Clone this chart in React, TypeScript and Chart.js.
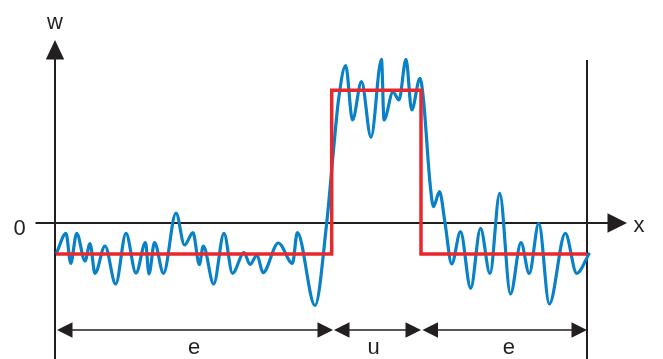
import React, { useEffect, useRef } from "react";
import { Chart, registerables } from "chart.js";

Chart.register(...registerables);

// Measured signal w(x): x positions and amplitudes (0 = baseline axis)
const signalX = [
  0.17, 1.1, 1.57, 2.17, 3.0, 3.5, 4.0, 5.0, 6.07, 7.1, 8.1, 9.05, 9.4, 9.95, 10.85,
  12.1, 12.95, 13.8, 14.43, 14.83, 15.87, 16.9, 17.75, 18.9, 19.5, 20.2, 20.8, 22.33,
  23.75, 24.23, 26.0, 27.17, 27.85, 28.35, 29.07, 29.75, 30.65, 31.6, 32.65, 32.9,
  33.8, 34.4, 35.1, 35.67, 36.5, 36.85, 37.5, 37.85, 38.45, 39.0, 39.67, 40.55, 41.57,
  42.55, 43.5, 44.47, 45.55, 46.6, 47.42, 48.38, 49.43, 51.03, 52.17, 53.4,
];
const signalW = [
  -0.958, -0.332, -1.3, -0.332, -1.226, -0.661, -1.623, -0.742, -1.968, -0.332, -1.613,
  -0.635, -1.645, -0.635, -1.623, 0.323, -0.71, -0.313, -1.339, -0.742, -1.968, -0.332,
  -1.623, -0.958, -1.339, -1.032, -1.603, -0.645, -1.3, -0.313, -2.661, 0.0, 2.355,
  3.968, 5.081, 3.323, 4.558, 2.765, 5.281, 3.323, 4.226, 3.968, 5.281, 3.645, 4.668,
  3.968, 1.29, 0.526, 1.01, 0.01, -1.323, -0.281, -2.106, -0.171, -1.629, 0.958, -2.29,
  -0.635, -1.629, -0.01, -2.613, -0.332, -1.623, -1.0,
];

// Ideal step profile: low level in the "e" zones, high level in the "u" zone
const stepX = [0.1, 27.67, 27.67, 36.6, 36.6, 53.2];
const stepW = [-1, -1, 4.28, 4.28, -1, -1];

// Zone boundaries along x, their labels and label positions
const zoneBounds = [0.2, 27.8, 27.9, 36.6, 36.75, 53.2];
const zoneLabels = ["e", "u", "e"];
const zoneLabelX = [13.9, 31.85, 45.38];

const INK = "#231f20";
const FONT = '22px "Liberation Sans", Arial, sans-serif';

function arrowHead(
  ctx: CanvasRenderingContext2D,
  tipX: number,
  tipY: number,
  dirX: number,
  dirY: number,
  len: number,
  half: number
) {
  const bx = tipX - dirX * len;
  const by = tipY - dirY * len;
  const nx = -dirY;
  const ny = dirX;
  ctx.beginPath();
  ctx.moveTo(tipX, tipY);
  ctx.lineTo(bx + nx * half, by + ny * half);
  ctx.lineTo(bx - nx * half, by - ny * half);
  ctx.closePath();
  ctx.fill();
}

const diagramPlugin = {
  id: "diagram",
  beforeDatasetsDraw(chart: any) {
    const ctx: CanvasRenderingContext2D = chart.ctx;
    const xs = chart.scales.x;
    const ys = chart.scales.y;
    const px = (v: number) => xs.getPixelForValue(v);
    const py = (v: number) => ys.getPixelForValue(v);
    const bottom = chart.height;

    ctx.save();
    ctx.strokeStyle = INK;
    ctx.fillStyle = INK;
    ctx.lineWidth = 2;

    // w axis with arrow
    const yTip = 5.9;
    ctx.beginPath();
    ctx.moveTo(px(0), bottom);
    ctx.lineTo(px(0), py(yTip) + 15);
    ctx.stroke();
    arrowHead(ctx, px(0), py(yTip), 0, -1, 19.5, 9.2);

    // x axis with arrow
    const xTip = 57.2;
    ctx.beginPath();
    ctx.moveTo(px(-1.95), py(0));
    ctx.lineTo(px(xTip) - 15, py(0));
    ctx.stroke();
    arrowHead(ctx, px(xTip), py(0), 1, 0, 19.5, 9.7);

    // right boundary line
    ctx.beginPath();
    ctx.moveTo(px(zoneBounds[5]), py(5.26));
    ctx.lineTo(px(zoneBounds[5]), bottom);
    ctx.stroke();

    // dimension arrows for the zones
    const dimY = py(-3.45);
    ctx.lineWidth = 1.6;
    for (let i = 0; i < 3; i++) {
      const a = px(zoneBounds[2 * i]);
      const b = px(zoneBounds[2 * i + 1]);
      ctx.beginPath();
      ctx.moveTo(a + 10, dimY);
      ctx.lineTo(b - 10, dimY);
      ctx.stroke();
      arrowHead(ctx, a, dimY, -1, 0, 15.5, 7.7);
      arrowHead(ctx, b, dimY, 1, 0, 15.5, 7.7);
    }

    // labels
    ctx.font = FONT;
    ctx.textAlign = "center";
    ctx.textBaseline = "alphabetic";
    ctx.fillText("w", px(0), 29);
    ctx.fillText("x", px(58.4), 232);
    ctx.fillText("0", px(-3.55), 234.5);
    for (let i = 0; i < 3; i++) {
      ctx.fillText(zoneLabels[i], px(zoneLabelX[i]), 353.5);
    }
    ctx.restore();
  },
};

export default function App() {
  const ref = useRef<HTMLCanvasElement | null>(null);

  useEffect(() => {
    if (!ref.current) return;
    const chart = new Chart(ref.current, {
      type: "line",
      data: {
        datasets: [
          {
            label: "step",
            data: stepX.map((x, i) => ({ x, y: stepW[i] })),
            borderColor: "#e8282d",
            borderWidth: 3.5,
            pointRadius: 0,
            tension: 0,
            borderJoinStyle: "miter",
            fill: false,
          },
          {
            label: "signal",
            data: signalX.map((x, i) => ({ x, y: signalW[i] })),
            borderColor: "#0a80c6",
            borderWidth: 3.2,
            pointRadius: 0,
            cubicInterpolationMode: "monotone",
            borderCapStyle: "round",
            borderJoinStyle: "round",
            fill: false,
          },
        ],
      },
      options: {
        animation: false,
        responsive: false,
        devicePixelRatio: 1,
        layout: { padding: 0 },
        plugins: {
          legend: { display: false },
          tooltip: { enabled: false },
        },
        scales: {
          x: { type: "linear", display: false, min: -5.5, max: 60.8 },
          y: { type: "linear", display: false, min: -136 / 31, max: 223 / 31 },
        },
      },
      plugins: [diagramPlugin],
    });
    return () => chart.destroy();
  }, []);

  return (
    <div style={{ position: "absolute", left: 0, top: 0, width: 663, height: 359, background: "#fff" }}>
      <canvas ref={ref} width={663} height={359} />
    </div>
  );
}
